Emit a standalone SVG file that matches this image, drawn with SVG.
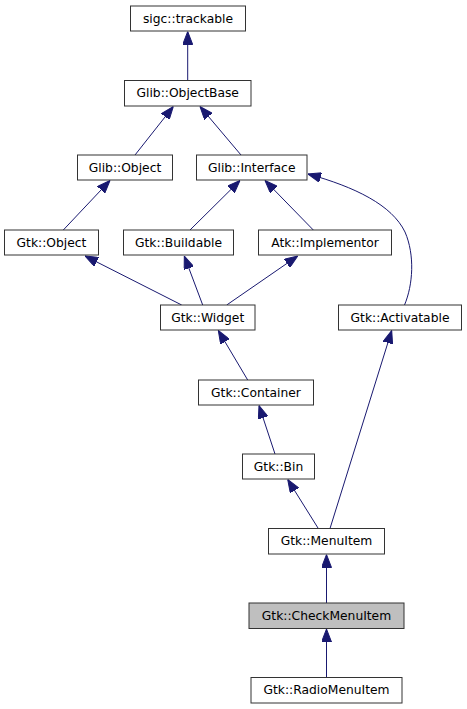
<svg xmlns="http://www.w3.org/2000/svg" width="467" height="709" viewBox="0 0 467 709">
<style>
.n rect{fill:#fff;stroke:#333;stroke-width:1}
.n.cur rect{fill:#bfbfbf}
.n text{font-family:"DejaVu Sans","Liberation Sans",sans-serif;font-size:12.3px;fill:#000;text-anchor:middle}
.e path{fill:none;stroke:#191970;stroke-width:1;marker-end:url(#ah)}
</style>
<defs>
<marker id="ah" viewBox="0 0 13 10" refX="13" refY="5" markerWidth="13" markerHeight="10" markerUnits="userSpaceOnUse" orient="auto">
<path d="M0,0 L13,5 L0,10 z" fill="#191970" stroke="#191970" stroke-width="1"/>
</marker>
</defs>
<rect width="467" height="709" fill="#fff"/>
<g id="edges" class="e">
<path d="M187.7,80.5 L187.7,31.5"/>
<path d="M135,155 L173.3,106.5"/>
<path d="M241,155 L200,106.5"/>
<path d="M63.3,230 L110,180.5"/>
<path d="M190,230 L240,180.5"/>
<path d="M313.3,230 L265,180.5"/>
<path d="M404.5,305 C413,285 415,255 405,232 C392,205 355,187 308,174"/>
<path d="M181.7,305 L85,256"/>
<path d="M202.7,305 L184.3,256"/>
<path d="M226.7,305 L297.7,256"/>
<path d="M247.7,380 L218.3,330.5"/>
<path d="M330,528.5 L391.7,330.5"/>
<path d="M275,454 L259,405.5"/>
<path d="M318.3,528.5 L287.7,479.5"/>
<path d="M326.5,603 L326.5,554.5"/>
<path d="M326.5,677.5 L326.5,629"/>
</g>
<g id="sigc_trackable" class="n"><rect x="130.5" y="6" width="115" height="25"/><text x="188" y="22.5">sigc::trackable</text></g>
<g id="glib_objectbase" class="n"><rect x="124.5" y="80.5" width="126.5" height="25.5"/><text x="187.7" y="97">Glib::ObjectBase</text></g>
<g id="glib_object" class="n"><rect x="77.5" y="155" width="95" height="25"/><text x="125" y="171.5">Glib::Object</text></g>
<g id="glib_interface" class="n"><rect x="196.5" y="155" width="110.5" height="25"/><text x="251.7" y="171.5">Glib::Interface</text></g>
<g id="gtk_object" class="n"><rect x="4.5" y="230" width="94" height="25"/><text x="51.5" y="246.5">Gtk::Object</text></g>
<g id="gtk_buildable" class="n"><rect x="123.5" y="230" width="110" height="25"/><text x="178.5" y="246.5">Gtk::Buildable</text></g>
<g id="atk_implementor" class="n"><rect x="258.5" y="230" width="133" height="25"/><text x="325" y="246.5">Atk::Implementor</text></g>
<g id="gtk_widget" class="n"><rect x="160.5" y="305" width="94.5" height="25"/><text x="207.7" y="321.5">Gtk::Widget</text></g>
<g id="gtk_activatable" class="n"><rect x="338.5" y="305" width="123" height="25"/><text x="400" y="321.5">Gtk::Activatable</text></g>
<g id="gtk_container" class="n"><rect x="198.5" y="380" width="115" height="25"/><text x="256" y="396.5">Gtk::Container</text></g>
<g id="gtk_bin" class="n"><rect x="242.5" y="454" width="72" height="25"/><text x="278.5" y="470.5">Gtk::Bin</text></g>
<g id="gtk_menuitem" class="n"><rect x="268.5" y="528.5" width="116" height="25.5"/><text x="326.5" y="545">Gtk::MenuItem</text></g>
<g id="gtk_checkmenuitem" class="n cur"><rect x="249" y="603" width="155" height="25.5"/><text x="326.5" y="619.5">Gtk::CheckMenuItem</text></g>
<g id="gtk_radiomenuitem" class="n"><rect x="251" y="677.5" width="151" height="25.5"/><text x="326.5" y="694">Gtk::RadioMenuItem</text></g>
</svg>
